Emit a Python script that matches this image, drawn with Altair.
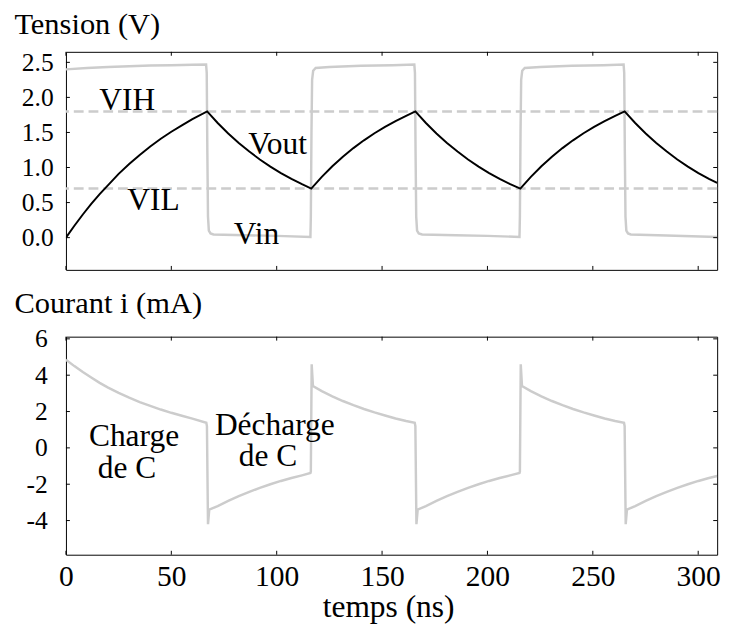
import altair as alt
import pandas as pd

# ---------------- data ----------------
# Vin (V)
t_vin = [0, 10, 20, 30, 40, 50, 60, 66.5, 66.8, 67.1, 67.4, 67.8, 68.6, 70, 85, 100, 116.0,
         116.2, 116.5, 116.8, 117.3, 118.5, 125, 140, 155, 165.3, 165.6, 165.9, 166.2, 166.6,
         167.4, 169, 185, 200, 215.2, 215.4, 215.7, 216.0, 216.5, 217.7, 225, 240, 255, 264.6,
         264.9, 265.2, 265.5, 265.9, 266.7, 268, 285, 309]
v_in = [2.40, 2.42, 2.435, 2.445, 2.455, 2.46, 2.465, 2.47, 2.35, 1.2, 0.3, 0.1, 0.06, 0.045,
        0.035, 0.025, 0.01, 0.3, 1.5, 2.25, 2.38, 2.42, 2.435, 2.45, 2.46, 2.47, 2.35, 1.2, 0.3,
        0.1, 0.06, 0.045, 0.035, 0.025, 0.01, 0.3, 1.5, 2.25, 2.38, 2.42, 2.435, 2.45, 2.46, 2.47,
        2.35, 1.2, 0.3, 0.1, 0.06, 0.045, 0.03, 0.01]

# Vout (V)
t_vout = [0, 4, 8, 12, 16, 20, 25, 30, 35, 40, 45, 50, 55, 60, 67.0,
          72, 77, 82, 87, 92, 97, 102, 107, 112, 116.4,
          121.4, 126.4, 131.4, 136.4, 141.4, 146.4, 151.4, 156.4, 161.4, 165.8,
          170.8, 175.8, 180.8, 185.8, 190.8, 195.8, 200.8, 205.8, 210.8, 215.6,
          220.6, 225.6, 230.6, 235.6, 240.6, 245.6, 250.6, 255.6, 260.6, 265.1,
          270.1, 275.1, 280.1, 285.1, 290.1, 295.1, 300.1, 305.1, 309]
v_out = [0.0, 0.17, 0.33, 0.48, 0.62, 0.75, 0.91, 1.05, 1.18, 1.30, 1.41, 1.51, 1.60, 1.69, 1.80,
         1.635, 1.485, 1.35, 1.227, 1.115, 1.013, 0.921, 0.837, 0.762, 0.70,
         0.867, 1.017, 1.153, 1.277, 1.388, 1.489, 1.580, 1.663, 1.738, 1.80,
         1.635, 1.485, 1.35, 1.227, 1.115, 1.013, 0.921, 0.837, 0.762, 0.70,
         0.867, 1.017, 1.153, 1.277, 1.388, 1.489, 1.580, 1.663, 1.738, 1.80,
         1.635, 1.485, 1.35, 1.227, 1.115, 1.013, 0.921, 0.837, 0.78]

# Courant i (mA)
t_i = [0, 4, 8, 12, 16, 20, 25, 30, 35, 40, 45, 50, 55, 60, 66.6, 66.9, 67.4, 68.0,
       72, 77, 82, 87, 92, 97, 102, 107, 112, 116.0, 116.2, 116.6, 117.2,
       121.4, 126.4, 131.4, 136.4, 141.4, 146.4, 151.4, 156.4, 161.4, 165.5, 165.8, 166.3, 166.9,
       170.8, 175.8, 180.8, 185.8, 190.8, 195.8, 200.8, 205.8, 210.8, 215.2, 215.4, 215.8, 216.4,
       220.6, 225.6, 230.6, 235.6, 240.6, 245.6, 250.6, 255.6, 260.6, 264.8, 265.1, 265.6, 266.2,
       270.1, 275.1, 280.1, 285.1, 290.1, 295.1, 300.1, 305.1, 309]
i_ma = [4.85, 4.5, 4.17, 3.87, 3.58, 3.32, 3.03, 2.76, 2.52, 2.31, 2.11, 1.93, 1.77, 1.61, 1.38, 1.2, -4.2, -3.4,
        -3.2, -2.92, -2.66, -2.42, -2.2, -2.0, -1.82, -1.66, -1.51, -1.38, -1.3, 4.6, 3.4,
        3.12, 2.84, 2.58, 2.35, 2.14, 1.95, 1.78, 1.62, 1.48, 1.38, 1.2, -4.2, -3.4,
        -3.2, -2.92, -2.66, -2.42, -2.2, -2.0, -1.82, -1.66, -1.51, -1.38, -1.3, 4.6, 3.4,
        3.12, 2.84, 2.58, 2.35, 2.14, 1.95, 1.78, 1.62, 1.48, 1.38, 1.2, -4.2, -3.4,
        -3.2, -2.92, -2.66, -2.42, -2.2, -2.0, -1.82, -1.66, -1.55]

# thresholds
thr_values = [1.8, 0.7]

# annotations
top_labels = ["VIH", "VIL", "Vout", "Vin"]
top_lab_t = [29.1, 41.5, 100.4, 90.4]
top_lab_v = [1.82, 0.40, 1.19, -0.084]

bot_labels = ["Charge", "de C", "Décharge", "de C"]
bot_lab_t = [32.3, 29.0, 99.1, 95.9]
bot_lab_v = [0.09, -1.68, 0.72, -1.02]

# ticks
x_ticks = [0, 50, 100, 150, 200, 250, 300]
v_ticks = [0.0, 0.5, 1.0, 1.5, 2.0, 2.5]
i_ticks = [-4, -2, 0, 2, 4, 6]

# ---------------- styling ----------------
W, H = 663, 222
FONT = "Liberation Serif, Times New Roman, DejaVu Serif, serif"
GRAY = "#cccccc"
TL = 4  # inward tick length

x_scale = alt.Scale(domain=[0, 309], nice=False, zero=False)
v_scale = alt.Scale(domain=[-0.46, 2.65], nice=False, zero=False)
i_scale = alt.Scale(domain=[-5.88, 6.12], nice=False, zero=False)

common = dict(labelFont=FONT, titleFont=FONT, labelColor="black", titleColor="black",
              titleFontWeight="normal", ticks=False, domain=False, grid=False)

y_axis_top = alt.Axis(values=v_ticks, format=".1f", title="Tension (V)", titleAngle=0,
                      titleAlign="left", titleBaseline="alphabetic", titleX=-53, titleY=-19,
                      titleFontSize=31, labelFontSize=26, labelPadding=13, **common)
y_axis_bot = alt.Axis(values=i_ticks, labelExpr="'' + datum.value", title="Courant i (mA)",
                      titleAngle=0, titleAlign="left", titleBaseline="alphabetic", titleX=-53,
                      titleY=-24.5, titleFontSize=31, labelFontSize=26, labelPadding=19, **common)
x_axis_bot = alt.Axis(values=x_ticks, title="temps (ns)", titleFontSize=32, titleY=63,
                      titleX=328, titleBaseline="alphabetic", labelFontSize=30,
                      labelBaseline="alphabetic", labelPadding=31, labelFlush=False, **common)


def tick_layers(yscale, yticks, xaxis, yaxis):
    xt = pd.DataFrame({"t": x_ticks})
    yt = pd.DataFrame({"v": yticks})
    bottom = alt.Chart(xt).mark_rule(color="black", strokeWidth=1).encode(
        x=alt.X("t:Q", scale=x_scale, axis=xaxis), y=alt.value(H - TL), y2=alt.value(H))
    top = alt.Chart(xt).mark_rule(color="black", strokeWidth=1).encode(
        x=alt.X("t:Q", scale=x_scale, axis=xaxis), y=alt.value(0), y2=alt.value(TL))
    left = alt.Chart(yt).mark_rule(color="black", strokeWidth=1).encode(
        y=alt.Y("v:Q", scale=yscale, axis=yaxis), x=alt.value(0), x2=alt.value(TL))
    right = alt.Chart(yt).mark_rule(color="black", strokeWidth=1).encode(
        y=alt.Y("v:Q", scale=yscale, axis=yaxis), x=alt.value(W - TL), x2=alt.value(W))
    return [bottom, top, left, right]


# ---------------- top panel ----------------
df_vin = pd.DataFrame({"t": t_vin, "v": v_in})
df_vout = pd.DataFrame({"t": t_vout, "v": v_out})
df_thr = pd.DataFrame({"v": thr_values})
df_tlab = pd.DataFrame({"t": top_lab_t, "v": top_lab_v, "txt": top_labels})

thr = alt.Chart(df_thr).mark_rule(color=GRAY, strokeWidth=2.5, strokeDash=[10, 5]).encode(
    y=alt.Y("v:Q", scale=v_scale, axis=y_axis_top))
vin = alt.Chart(df_vin).mark_line(color=GRAY, strokeWidth=2.5, clip=True).encode(
    x=alt.X("t:Q", scale=x_scale, axis=None), y=alt.Y("v:Q", scale=v_scale, axis=y_axis_top))
vout = alt.Chart(df_vout).mark_line(color="black", strokeWidth=2, clip=True).encode(
    x=alt.X("t:Q", scale=x_scale, axis=None), y=alt.Y("v:Q", scale=v_scale, axis=y_axis_top))
tlab = alt.Chart(df_tlab).mark_text(font=FONT, fontSize=32, align="center",
                                    baseline="alphabetic", color="black").encode(
    x=alt.X("t:Q", scale=x_scale, axis=None), y=alt.Y("v:Q", scale=v_scale, axis=y_axis_top),
    text="txt:N")

top_panel = alt.layer(thr, vin, vout, tlab,
                      *tick_layers(v_scale, v_ticks, None, y_axis_top)).properties(
    width=W, height=H)

# ---------------- bottom panel ----------------
df_i = pd.DataFrame({"t": t_i, "v": i_ma})
df_blab = pd.DataFrame({"t": bot_lab_t, "v": bot_lab_v, "txt": bot_labels})

cur = alt.Chart(df_i).mark_line(color=GRAY, strokeWidth=2.5, clip=True).encode(
    x=alt.X("t:Q", scale=x_scale, axis=x_axis_bot), y=alt.Y("v:Q", scale=i_scale, axis=y_axis_bot))
blab = alt.Chart(df_blab).mark_text(font=FONT, fontSize=32, align="center",
                                    baseline="alphabetic", color="black").encode(
    x=alt.X("t:Q", scale=x_scale, axis=x_axis_bot), y=alt.Y("v:Q", scale=i_scale, axis=y_axis_bot),
    text="txt:N")

bottom_panel = alt.layer(cur, blab,
                         *tick_layers(i_scale, i_ticks, x_axis_bot, y_axis_bot)).properties(
    width=W, height=H)

chart = alt.vconcat(top_panel, bottom_panel, spacing=68, bounds="flush").properties(
    padding={"left": 5, "top": -6, "right": 5, "bottom": 0}, background="white"
).configure_view(stroke="black", strokeWidth=1)

chart.save("out.html", embed_options={"renderer": "svg", "actions": False})
